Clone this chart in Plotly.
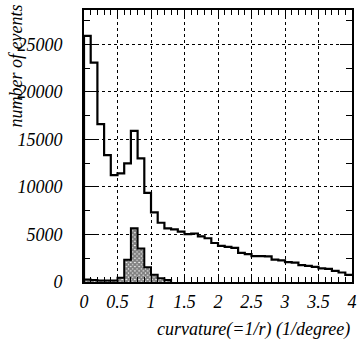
import plotly.graph_objects as go

# bin lower edges (width 0.1) from 0 to 4
bin_edges = [round(i * 0.1, 1) for i in range(41)]

all_events = [25870, 23060, 16590, 13350, 11240, 11420, 12470, 15900, 13000, 9380,
              7320, 6230, 5630, 5530, 5300, 5030, 5100, 4800, 4600, 4100,
              3800, 3700, 3580, 3060, 2930, 2720, 2720, 2700, 2350, 2280,
              2080, 2030, 1780, 1700, 1580, 1430, 1380, 1180, 1000, 750]

selected_events = [250, 200, 150, 150, 150, 450, 2350, 5650, 3530, 1550,
                   750, 400, 200]

x_ticks = [0, 0.5, 1, 1.5, 2, 2.5, 3, 3.5, 4]
x_ticklabels = ["0", "0.5", "1", "1.5", "2", "2.5", "3", "3.5", "4"]
y_ticks = [0, 5000, 10000, 15000, 20000, 25000]
y_ticklabels = ["0", "5000", "10000", "15000", "20000", "25000"]

FONT = "Liberation Serif"

fig = go.Figure()

# selected (hatched) histogram
n_sel = len(selected_events)
xs = [0] + bin_edges[:n_sel + 1] + [bin_edges[n_sel]]
ys = [0] + selected_events + [selected_events[-1], 0]
fig.add_trace(go.Scatter(
    x=xs, y=ys, mode="lines", line=dict(shape="hv", color="black", width=2),
    fill="tozeroy", fillcolor="white",
    fillpattern=dict(shape="x", size=3, solidity=0.85, fgcolor="black", bgcolor="white"),
    hoverinfo="skip", showlegend=False))

# all events histogram
xa = [0] + bin_edges
ya = [0] + all_events + [all_events[-1]]
fig.add_trace(go.Scatter(
    x=xa, y=ya, mode="lines", line=dict(shape="hv", color="black", width=2.2),
    hoverinfo="skip", showlegend=False))

axis_common = dict(
    showline=True, linecolor="black", linewidth=2, mirror="allticks",
    ticks="inside", tickcolor="black", tickwidth=1,
    showgrid=True, gridcolor="black", gridwidth=1, griddash="dot",
    zeroline=False,
    tickfont=dict(family=FONT, size=18, color="black", style="italic"),
)

fig.update_xaxes(
    range=[0, 4], tickvals=x_ticks, ticktext=["<i>%s</i>" % t for t in x_ticklabels], ticklen=8,
    minor=dict(dtick=0.1, ticklen=5, ticks="inside", tickcolor="black", showgrid=False),
    ticklabelstandoff=2,
    **axis_common)
fig.update_yaxes(
    range=[0, 28600], tickvals=y_ticks, ticktext=["<i>%s</i>" % t for t in y_ticklabels], ticklen=12,
    minor=dict(dtick=2500, ticklen=6, ticks="inside", tickcolor="black", showgrid=False),
    ticklabelstandoff=16,
    **axis_common)

fig.update_layout(
    width=362, height=340,
    margin=dict(l=84, r=5, t=10, b=58),
    plot_bgcolor="white", paper_bgcolor="white",
    annotations=[
        dict(text="<i>number of events</i>", xref="paper", yref="paper", x=0, y=1,
             xanchor="center", yanchor="top", xshift=-69, yshift=7, textangle=-90,
             showarrow=False, font=dict(family=FONT, size=18, color="black")),
        dict(text="<i>curvature(=1/r) (1/degree)</i>", xref="paper", yref="paper", x=1, y=0,
             xanchor="right", yanchor="top", yshift=-35, xshift=0,
             showarrow=False, font=dict(family=FONT, size=18, color="black")),
    ],
)

fig.write_html("out.html")
